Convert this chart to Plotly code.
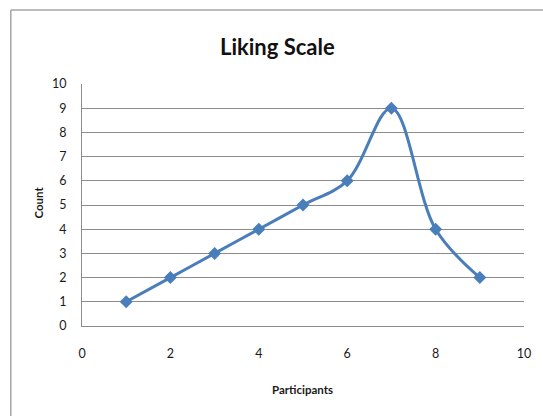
import plotly.graph_objects as go

# Liking scale responses
participants = [1, 2, 3, 4, 5, 6, 7, 8, 9]
counts = [1, 2, 3, 4, 5, 6, 9, 4, 2]

x_ticks = [0, 2, 4, 6, 8, 10]
y_ticks = [0, 1, 2, 3, 4, 5, 6, 7, 8, 9, 10]

W, H = 543, 416
L, R, T, B = 82, 14, 84, 90
pw, ph = W - L - R, H - T - B


def px(x):
    return (x - L) / pw


def py(y):
    return (H - B - y) / ph


FONT = "Lato"
LINE = "#4a7ebb"
GRID = "#8c8c8c"

fig = go.Figure(
    go.Scatter(
        x=participants,
        y=counts,
        mode="lines+markers",
        line=dict(color=LINE, width=3, shape="spline", smoothing=1),
        marker=dict(symbol="diamond", size=10, color=LINE),
        cliponaxis=False,
    )
)

fig.update_layout(
    width=W,
    height=H,
    margin=dict(l=L, r=R, t=T, b=B),
    paper_bgcolor="white",
    plot_bgcolor="white",
    showlegend=False,
    font=dict(family=FONT, color="#1a1a1a", size=12),
    xaxis=dict(
        range=[0, 10],
        tickvals=x_ticks,
        ticktext=[str(v) for v in x_ticks],
        showgrid=False,
        zeroline=False,
        showline=True,
        linecolor=GRID,
        linewidth=1,
        ticks="",
        ticklabelstandoff=16,
        tickfont=dict(size=12.5),
    ),
    yaxis=dict(
        range=[0, 10],
        tickvals=y_ticks,
        ticktext=[str(v) for v in y_ticks],
        showgrid=True,
        gridcolor=GRID,
        gridwidth=1,
        zeroline=False,
        showline=True,
        linecolor=GRID,
        linewidth=1,
        ticks="",
        ticklabelstandoff=12,
        tickfont=dict(size=12.5),
    ),
    annotations=[
        dict(text="<b>Liking Scale</b>", x=px(280), y=py(46), xref="paper", yref="paper",
             xanchor="center", yanchor="middle",
             showarrow=False, font=dict(size=22, family=FONT, color="#111111")),
        dict(text="<b>Participants</b>", x=px(305), y=py(389), xref="paper", yref="paper",
             xanchor="center", yanchor="middle",
             showarrow=False, font=dict(size=11.5, family=FONT, color="#1a1a1a")),
        dict(text="<b>Count</b>", x=px(37), y=py(203), xref="paper", yref="paper",
             xanchor="center", yanchor="middle",
             showarrow=False, textangle=-90, font=dict(size=11.5, family=FONT, color="#1a1a1a")),
    ],
    shapes=[
        # chart-area frame running off the right and bottom edges
        dict(type="line", xref="paper", yref="paper", x0=px(10), x1=px(W + 20),
             y0=py(10), y1=py(10), line=dict(color="#a6a6a6", width=1.5)),
        dict(type="line", xref="paper", yref="paper", x0=px(10), x1=px(10),
             y0=py(10), y1=py(H + 20), line=dict(color="#a6a6a6", width=1.5)),
    ],
)

fig.write_html("out.html")
